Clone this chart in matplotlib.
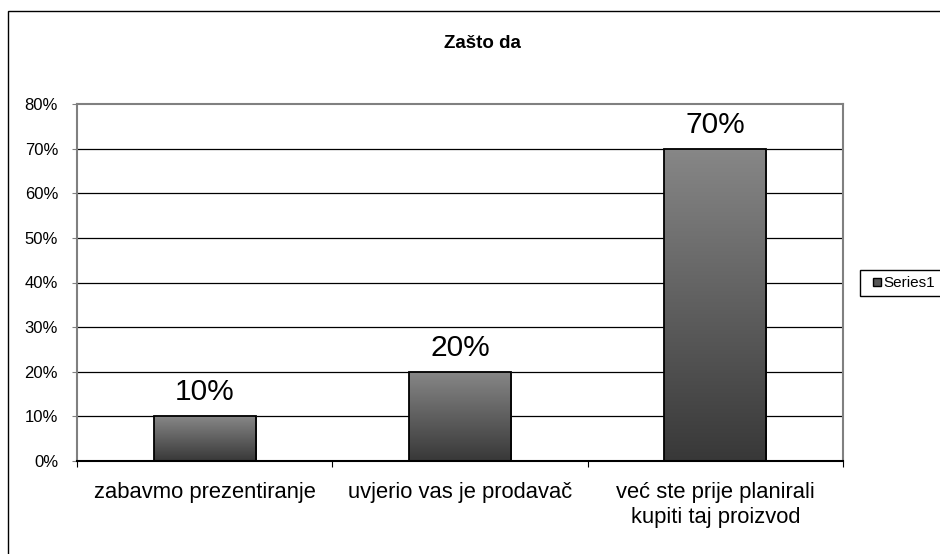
import matplotlib.pyplot as plt
import numpy as np
from matplotlib.patches import Rectangle
from matplotlib.lines import Line2D
from matplotlib.colors import LinearSegmentedColormap

plt.rcParams['font.family'] = ['Liberation Sans', 'DejaVu Sans']

categories = ["zabavmo prezentiranje", "uvjerio vas je prodavač",
              "već ste prije planirali\nkupiti taj proizvod"]
values = [10, 20, 70]
value_labels = ["10%", "20%", "70%"]
yticks = [0, 10, 20, 30, 40, 50, 60, 70, 80]

fig = plt.figure(figsize=(9.4, 5.54), dpi=100)
# outer chart frame (runs off the right and bottom edge like the original)
fig.patches.append(Rectangle((8/940, -0.01), 1.0, 1 - 11/554 + 0.01, transform=fig.transFigure,
                             fill=False, edgecolor='black', linewidth=1.0))

ax = fig.add_axes([77/940, 1 - 461/554, (843 - 77)/940, (461 - 104)/554])
x = np.arange(len(categories))
bars = ax.bar(x, values, width=0.4, color='none', edgecolor='black', linewidth=1.3, zorder=3)

cmap = LinearSegmentedColormap.from_list('g', ['#383838', '#878787'])
grad = np.linspace(0, 1, 256).reshape(-1, 1)
for b in bars:
    x0, y0 = b.get_x(), b.get_y()
    w, h = b.get_width(), b.get_height()
    im = ax.imshow(grad, cmap=cmap, origin='lower', extent=(x0, x0 + w, y0, y0 + h),
                   aspect='auto', zorder=2)
    im.set_clip_path(b)

for xi, v, lab in zip(x, values, value_labels):
    ax.text(xi, v + 3.6, lab, ha='center', va='baseline', fontsize=21.5)

ax.set_xlim(-0.5, 2.5)
ax.set_ylim(0, 80)
ax.set_yticks(yticks)
ax.set_yticklabels([f"{t}%" for t in yticks], fontsize=12, color='black')
for t in yticks[1:-1]:
    ax.axhline(t, color='black', linewidth=0.9, zorder=1)

ax.set_xticks([-0.5, 0.5, 1.5, 2.5])
ax.set_xticklabels([])
ax.set_xticks(x, minor=True)
ax.set_xticklabels(categories, minor=True, fontsize=15.8, linespacing=1.25)
ax.tick_params(axis='x', which='minor', length=0, pad=15)
ax.tick_params(axis='x', which='major', length=4, direction='out', color='black')
ax.tick_params(axis='y', length=3.6, direction='out', color='#808080', pad=10)

ax.spines['left'].set_color('#808080')
ax.spines['top'].set_color('#808080')
ax.spines['right'].set_color('#808080')
ax.spines['bottom'].set_color('black')
for s in ax.spines.values():
    s.set_linewidth(1.5)

fig.text(482/940, 1 - 44/554, "Zašto da", ha='center', va='center', fontsize=13.5, fontweight='bold')

handle = Line2D([], [], linestyle='none', marker='s', markersize=5.5,
                markerfacecolor='#555555', markeredgecolor='black', markeredgewidth=1.0)
fig.legend([handle], ["Series1"], loc='center left', bbox_to_anchor=(860/940, 1 - 283/554),
           fontsize=11, frameon=True, fancybox=False, edgecolor='black', framealpha=1,
           handlelength=1.4, handletextpad=-0.3, borderpad=0.4, borderaxespad=0)

fig.savefig("out.png", dpi=100)
